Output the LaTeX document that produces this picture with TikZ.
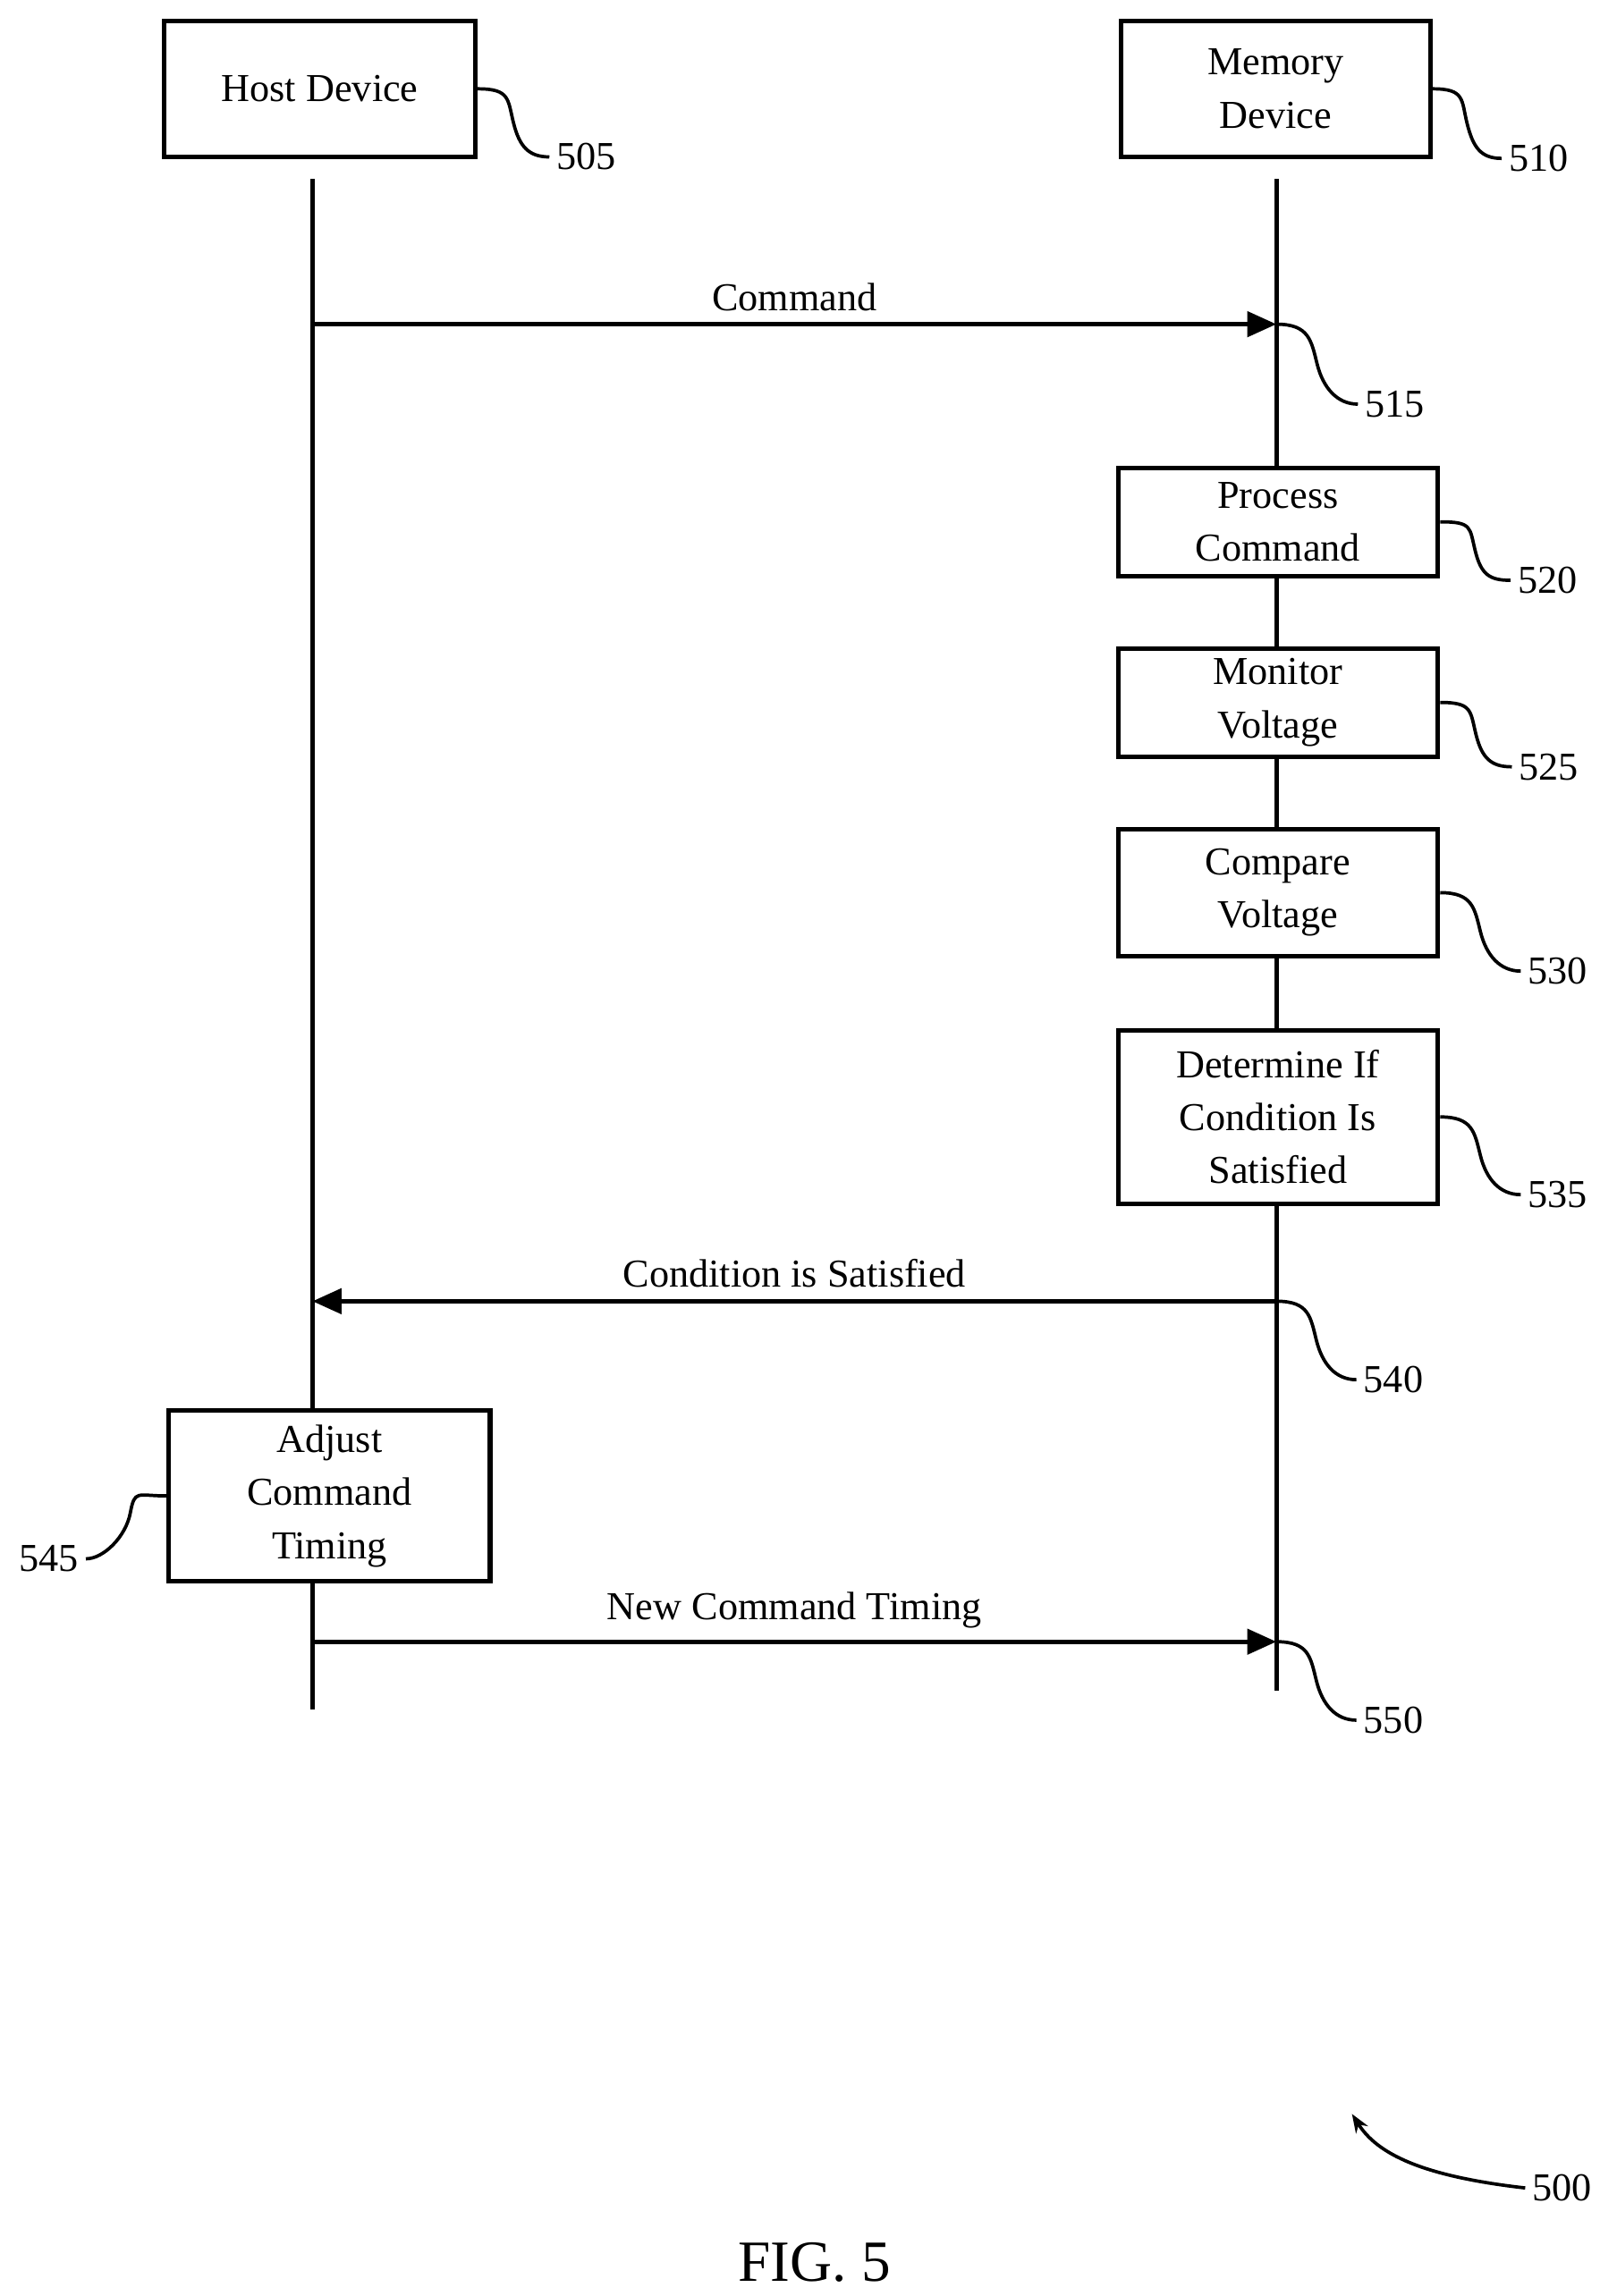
\documentclass[tikz,border=0pt]{standalone}
\usepackage{fontspec}
\setmainfont{Liberation Serif}
\usetikzlibrary{arrows.meta,calc}

\tikzset{
  box/.style={draw, line width=2.2pt, align=center, font=\fontsize{19}{25.5}\selectfont, inner sep=0pt},
  lbl/.style={font=\fontsize{19}{22}\selectfont},
  life/.style={line width=2.2pt},
  msg/.style={line width=2.2pt, -{Triangle[length=14pt,width=12pt]}},
  lead/.style={line width=1.6pt}
}
\newcommand{\squig}[2]{\draw[lead] (#1) .. controls +(22,0) and +(-4,-16) .. ($(#1)!0.5!(#2)$) .. controls +(4,16) and +(-14,0) .. (#2);}

\begin{document}
\begin{tikzpicture}[x=0.025cm,y=-0.025cm]
\useasboundingbox (0,0) rectangle (1080,1551);

% devices
\node[box, minimum width=210*0.025cm, minimum height=92*0.025cm] (host) at (216,60) {Host Device};
\node[box, minimum width=209*0.025cm, minimum height=92*0.025cm] (mem) at (861.5,60) {Memory\\Device};

% lifelines
\coordinate (ht) at (211,121); \coordinate (hb) at (211,1155);
\coordinate (mt) at (862,121); \coordinate (mb) at (862,1142);
\draw[life] (ht) -- (hb);
\draw[life] (mt) -- (mb);

% steps on memory side
\node[box, fill=white, minimum width=216*0.025cm, minimum height=73*0.025cm] (proc) at (863,352.5) {Process\\Command};
\node[box, fill=white, minimum width=216*0.025cm, minimum height=73*0.025cm] (mon) at (863,474.5) {Monitor\\Voltage};
\node[box, fill=white, minimum width=216*0.025cm, minimum height=86*0.025cm] (cmp) at (863,603) {Compare\\Voltage};
\node[box, fill=white, minimum width=216*0.025cm, minimum height=117*0.025cm] (det) at (863,754.5) {Determine If\\Condition Is\\Satisfied};
\node[box, fill=white, minimum width=217*0.025cm, minimum height=115*0.025cm] (adj) at (222.5,1010.5) {Adjust\\Command\\Timing};

% messages
\coordinate (c1) at (211,219); \coordinate (c2) at (862,219);
\draw[msg] (c1) -- (c2) node[lbl, midway, above=2pt] {Command};
\coordinate (s1) at (862,879); \coordinate (s2) at (211,879);
\draw[msg] (s1) -- (s2) node[lbl, midway, above=2pt] {Condition is Satisfied};
\coordinate (n1) at (211,1109); \coordinate (n2) at (862,1109);
\draw[msg] (n1) -- (n2) node[lbl, midway, above=2pt] {New Command Timing};

% reference numerals
\node[lbl] (r505) at (396,106) {505};
\node[lbl] (r510) at (1039,107) {510};
\node[lbl] (r515) at (942,273) {515};
\node[lbl] (r520) at (1045,392) {520};
\node[lbl] (r525) at (1046,518) {525};
\node[lbl] (r530) at (1052,656) {530};
\node[lbl] (r535) at (1052,807) {535};
\node[lbl] (r540) at (941,932) {540};
\node[lbl] (r545) at (33,1053) {545};
\node[lbl] (r550) at (941,1162) {550};
\node[lbl] (r500) at (1055,1478) {500};
\node[font=\fontsize{28}{32}\selectfont] (fig) at (550,1528) {FIG. 5};

\squig{host.east}{r505.west}
\squig{mem.east}{r510.west}
\squig{c2}{r515.west}
\squig{proc.east}{r520.west}
\squig{mon.east}{r525.west}
\squig{cmp.east}{r530.west}
\squig{det.east}{r535.west}
\squig{s1}{r540.west}
\squig{n2}{r550.west}
\draw[lead] (adj.west) .. controls +(-20,0) and +(3,-16) .. (88,1022) .. controls +(-3,16) and +(12,0) .. (r545.east);
\draw[lead, -{Stealth[length=9pt]}] (r500.west) .. controls (960,1470) and (930,1455) .. (913,1428);
\end{tikzpicture}
\end{document}
